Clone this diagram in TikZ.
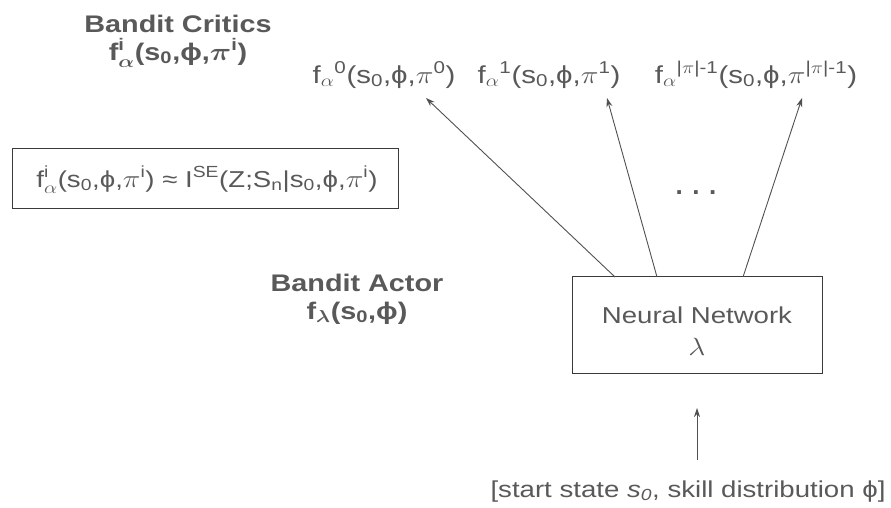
\documentclass[tikz,border=0pt]{standalone}
\usepackage{amsmath}
\usepackage{fontspec}
\setmainfont{Liberation Sans}
\usetikzlibrary{arrows.meta}
\definecolor{txt}{HTML}{595959}
\definecolor{ln}{HTML}{505050}
\definecolor{bx}{HTML}{3A3A3A}
\newcommand{\tx}[1]{\text{#1}}
\newcommand{\sx}[1]{\scalebox{1.2}[1]{#1}}
\tikzset{
  lbl/.style={text=txt, inner sep=0pt, anchor=base, font=\fontsize{23}{27}\selectfont},
  toplbl/.style={lbl, font=\fontsize{24.5}{28}\selectfont},
  head/.style={text=txt, inner sep=0pt, anchor=base, font=\fontsize{24}{28}\selectfont\bfseries\boldmath},
  boxed/.style={draw=bx, line width=1pt, inner sep=0pt},
  conn/.style={draw=ln, line width=0.9pt, -{Stealth[length=9pt,width=6pt]}}
}
\begin{document}
\begin{tikzpicture}[x=1pt,y=-1pt]
\useasboundingbox (0,0) rectangle (891,507);
% headings
\node[head] (crit) at (178,32) {\sx{Bandit Critics}};
\node[head] (critf) at (178,60) {\sx{f$_{\alpha}^{\tx{i}}$(s$_{\tx{0}}$,ϕ,$\pi^{\tx{i}}$)}};
\node[head] (act) at (357,291) {\sx{Bandit Actor}};
\node[head] (actf) at (357,319) {\sx{f$_{\lambda}$(s$_{\tx{0}}$,ϕ)}};
% top labels
\node[toplbl] (l0) at (384,83) {\sx{f$_{\alpha}{}^{\tx{0}}$(s$_{\tx{0}}$,ϕ,$\pi^{\tx{0}}$)}};
\node[toplbl] (l1) at (549,83) {\sx{f$_{\alpha}{}^{\tx{1}}$(s$_{\tx{0}}$,ϕ,$\pi^{\tx{1}}$)}};
\node[toplbl] (l2) at (756,83) {\sx{f$_{\alpha}{}^{\tx{|}\pi\tx{|-1}}$(s$_{\tx{0}}$,ϕ,$\pi^{\tx{|}\pi\tx{|-1}}$)}};
% formula box
\node[boxed, minimum width=386pt, minimum height=60pt] (fb) at (205,178) {};
\node[lbl] (fbt) at (207,187)
  {\sx{f$_{\alpha}^{\tx{i}}$(s$_{\tx{0}}$,ϕ,$\pi^{\tx{i}}$) ≈ I$^{\tx{SE}}$(Z;S$_{\tx{n}}$|s$_{\tx{0}}$,ϕ,$\pi^{\tx{i}}$)}};
% network box
\node[boxed, minimum width=250pt, minimum height=97pt] (nn) at (697,325) {};
\node[lbl] (nnt) at (697,323) {\sx{Neural Network}};
\node[lbl] (nnl) at (697,355) {\sx{$\lambda$}};
% dots
\node[text=txt, inner sep=0pt, font=\fontsize{26}{28}\selectfont\bfseries] (dots) at (696,193) {. . .};
% arrow endpoints
\coordinate (t0) at (615,277);
\coordinate (t1) at (657,277);
\coordinate (t2) at (743,277);
\coordinate (h0) at (426,98);
\coordinate (h1) at (607,98);
\coordinate (h2) at (802,98);
\draw[conn] (t0) -- (h0);
\draw[conn] (t1) -- (h1);
\draw[conn] (t2) -- (h2);
% input
\node[lbl] (inp) at (688,497) {\sx{[start state \textit{s}$_{\textit{\tx{0}}}$, skill distribution ϕ]}};
\coordinate (ib) at (697,460);
\coordinate (it) at (697,408);
\draw[conn] (ib) -- (it);
\end{tikzpicture}
\end{document}
